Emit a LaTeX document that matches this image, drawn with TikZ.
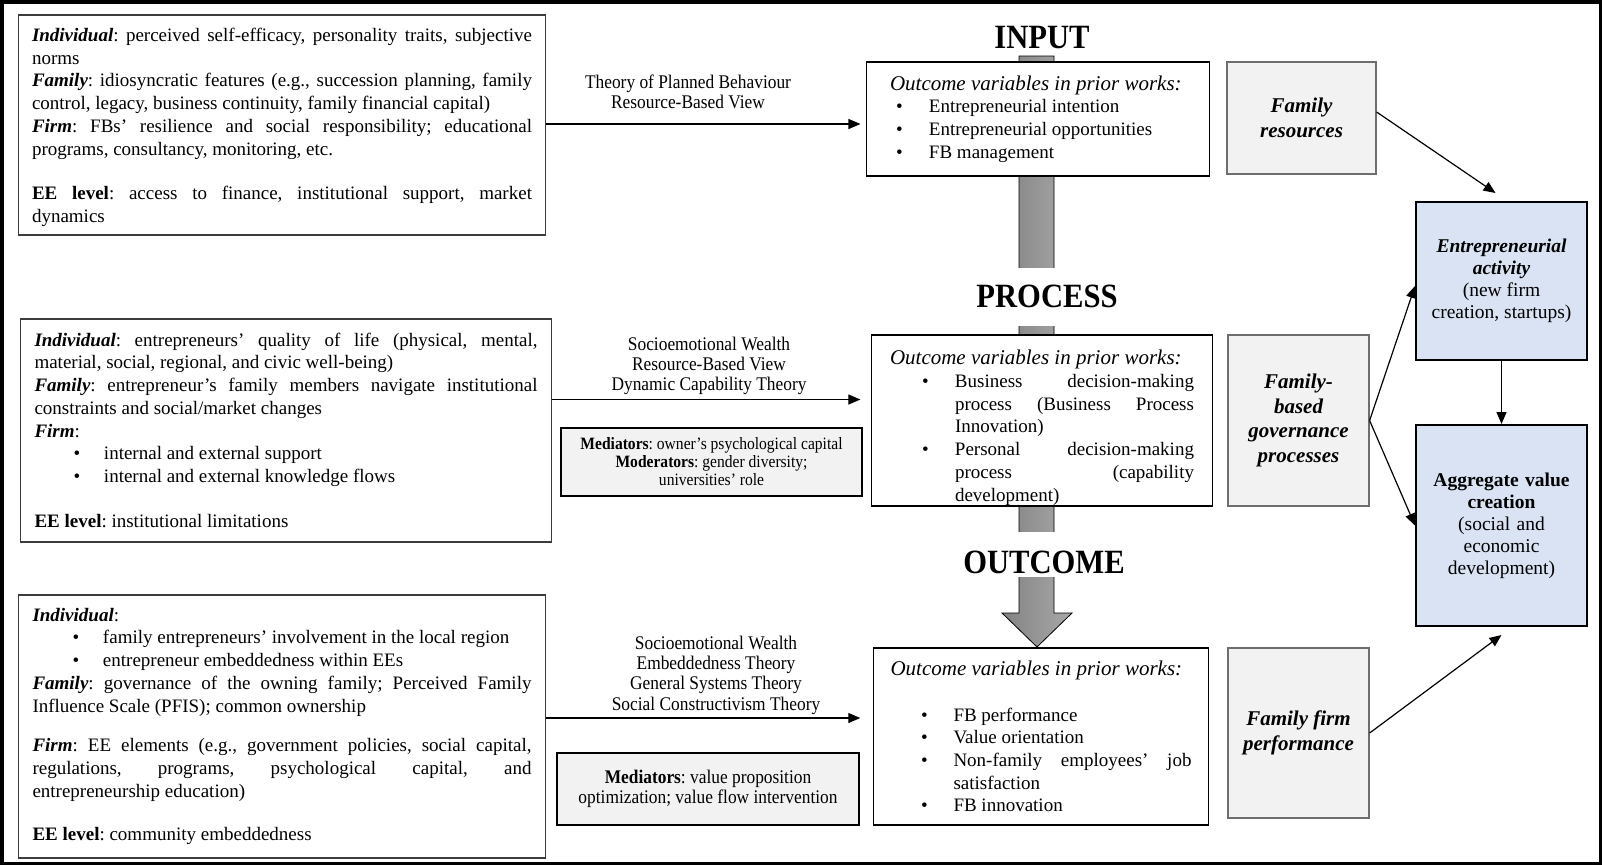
\documentclass[tikz,border=0pt]{standalone}
\usepackage{fontspec}
\setmainfont{Liberation Serif}
\newfontfamily\condfont[FakeStretch=0.9]{Liberation Serif}
\usetikzlibrary{arrows.meta,calc}
\setlength{\parindent}{0pt}
\frenchspacing
\definecolor{panelgray}{HTML}{F2F2F2}
\definecolor{bluefill}{HTML}{DAE3F3}
\definecolor{edgegray}{HTML}{3C3C3C}
\definecolor{graybox}{HTML}{6E6E6E}
\definecolor{shaftdark}{HTML}{838383}
\definecolor{shaftlight}{HTML}{A8A8A8}
\newcommand{\mainsz}{\fontsize{19}{22.7}\selectfont}
\newcommand{\titlesz}{\fontsize{21}{22.7}\selectfont\itshape}
\newcommand{\bisz}{\fontsize{21}{24.5}\selectfont\bfseries\itshape}
\newcommand{\bluesz}{\fontsize{19.5}{22}\selectfont}
\newcommand{\thsz}{\condfont\fontsize{19.3}{20.3}\selectfont}
\newcommand{\medAsz}{\condfont\fontsize{17.3}{18}\selectfont}
\newcommand{\medBsz}{\condfont\fontsize{19.3}{20}\selectfont}
\newcommand{\hdrsz}{\condfont\bfseries\fontsize{34}{34}\selectfont}
\newcommand{\bitem}[3]{\par\hangindent=#2\hangafter=1\noindent\hbox to #1{}\hbox to \dimexpr#2-#1\relax{\textbullet\hfil}#3\par}
\newcommand{\bib}[1]{\textbf{\textit{#1}}}
\tikzset{
 lbox/.style={draw=edgegray, line width=1.4pt, fill=white, align=justify, font=\mainsz, inner ysep=3pt},
 obox/.style={draw=black, line width=1.3pt, fill=white, align=justify, font=\mainsz, inner ysep=3pt},
 medbox/.style={draw=black, line width=2pt, fill=panelgray, align=center, inner sep=2pt},
 rgbox/.style={draw=graybox, line width=1.2pt, fill=panelgray, align=center, font=\bisz},
 bbox/.style={draw=black, line width=2pt, fill=bluefill, align=center, font=\bluesz},
 theory/.style={align=center, font=\thsz, inner sep=0pt},
 hdr/.style={font=\hdrsz, inner sep=0pt},
 arr/.style={-{Triangle[length=12pt,width=10pt]}, line width=1.2pt},
}
\begin{document}
\begin{tikzpicture}[x=1pt,y=-1pt]
\useasboundingbox (0,0) rectangle (1602,865);
\fill[white] (0,0) rectangle (1602,865);
\draw[line width=3.5pt] (1.75,1.75) rectangle (1600.25,863.25);

% big gray arrow behind the stages
\path[draw=black, line width=0.8pt, left color=shaftdark, right color=shaftlight]
  (1019,56) -- (1054,56) -- (1054,613) -- (1072,613) -- (1037,647) -- (1002,613) -- (1019,613) -- cycle;

% stage headers
\node[hdr, text height=24pt, text depth=0pt] (input) at (1042,36) {INPUT};
\node[hdr, fill=white, minimum width=150pt, text height=39pt, text depth=19pt] (process) at (1047,297) {PROCESS};
\node[hdr, fill=white, minimum width=170pt, text height=41pt, text depth=4pt] (outcome) at (1044,554.5) {OUTCOME};

% left boxes
\node[lbox, text width=500pt, inner xsep=13.5pt, minimum height=220pt] (l1) at (282,125) {%
\rule{0pt}{18pt}\bib{Individual}: perceived self-efficacy, personality traits, subjective\linebreak norms\par
\bib{Family}: idiosyncratic features (e.g., succession planning, family\linebreak control, legacy, business continuity, family financial capital)\par
\bib{Firm}: FBs’ resilience and social responsibility; educational\linebreak programs, consultancy, monitoring, etc.\par
\vspace{22pt}
\textbf{EE level}: access to finance, institutional support, market\linebreak dynamics\par};

\node[lbox, text width=503pt, inner xsep=14pt, minimum height=223pt] (l2) at (286,430.5) {%
\bib{Individual}: entrepreneurs’ quality of life (physical, mental,\linebreak material, social, regional, and civic well-being)\par
\bib{Family}: entrepreneur’s family members navigate institutional\linebreak constraints and social/market changes\par
\bib{Firm}:\par
\bitem{39pt}{69.5pt}{internal and external support}
\bitem{39pt}{69.5pt}{internal and external knowledge flows}
\vspace{22.7pt}
\textbf{EE level}: institutional limitations\par};

\node[lbox, text width=499pt, inner xsep=14pt, minimum height=263pt] (l3) at (282,726.5) {%
\bib{Individual}:\par
\bitem{40pt}{70.5pt}{family entrepreneurs’ involvement in the local region}
\bitem{40pt}{70.5pt}{entrepreneur embeddedness within EEs}
\bib{Family}: governance of the owning family; Perceived Family\linebreak Influence Scale (PFIS); common ownership\par
\vspace{17pt}
\bib{Firm}: EE elements (e.g., government policies, social capital,\linebreak regulations, programs, psychological capital, and\linebreak entrepreneurship education)\par
\vspace{21pt}
\textbf{EE level}: community embeddedness\par};

% outcome-variable boxes
\node[obox, text width=296pt, inner xsep=23.5pt, minimum height=114pt] (inbox) at (1038,119) {%
{\titlesz Outcome variables in prior works:}\par
\bitem{6pt}{39pt}{Entrepreneurial intention}
\bitem{6pt}{39pt}{Entrepreneurial opportunities}
\bitem{6pt}{39pt}{FB management}};

\node[obox, inner ysep=0pt, text width=304pt, inner xsep=18.5pt, minimum height=171pt] (pbox) at (1042,420.5) {%
{\titlesz\rule{0pt}{29pt}Outcome variables in prior works:}\par
\bitem{32pt}{65pt}{Business decision-making\linebreak process (Business Process\linebreak Innovation)}
\bitem{32pt}{65pt}{Personal decision-making\linebreak process (capability\linebreak development)}};

\node[obox, text width=301pt, inner xsep=17pt, minimum height=177pt] (obox) at (1041,736.5) {%
{\titlesz Outcome variables in prior works:}\par
\vspace{22.7pt}
\bitem{30.6pt}{63pt}{FB performance}
\bitem{30.6pt}{63pt}{Value orientation}
\bitem{30.6pt}{63pt}{Non-family employees’ job\linebreak satisfaction}
\bitem{30.6pt}{63pt}{FB innovation}};

% theory labels
\node[theory] (t1) at (688,92) {Theory of Planned Behaviour\\Resource-Based View};
\node[theory] (t2) at (709,366) {Socioemotional Wealth\\Resource-Based View\\Dynamic Capability Theory};
\node[theory] (t3) at (716,675) {Socioemotional Wealth\\Embeddedness Theory\\General Systems Theory\\Social Constructivism Theory};

% mediator boxes
\node[medbox, minimum width=301pt, minimum height=68pt, font=\medAsz] (med1) at (711.5,462) {\textbf{Mediators}: owner’s psychological capital\\\textbf{Moderators}: gender diversity;\\universities’ role};
\node[medbox, minimum width=302pt, minimum height=72pt, font=\medBsz] (med2) at (708,789) {\textbf{Mediators}: value proposition\\optimization; value flow intervention};

% right column
\node[rgbox, minimum width=149pt, minimum height=112pt] (fr) at (1301.5,118) {Family\\resources};
\node[rgbox, minimum width=141pt, minimum height=171pt] (fbg) at (1298.5,420.5) {Family-\\based\\governance\\processes};
\node[rgbox, minimum width=141pt, minimum height=170pt] (ffp) at (1298.5,733) {Family firm\\performance};
\node[bbox, minimum width=171pt, minimum height=158pt] (ea) at (1501.5,281) {\bib{Entrepreneurial}\\\bib{activity}\\(new firm\\creation, startups)};
\node[bbox, text width=163pt, inner xsep=4pt, minimum height=201pt] (av) at (1501.5,525.5) {\textbf{Aggregate value}\\\textbf{creation}\\(social and\\economic\\development)\par\vspace{24pt}};

% connectors
\draw[arr, shorten >=5.4pt] ([yshift=1pt]l1.east) -- ([yshift=1pt]l1.east -| inbox.west);
\draw[arr, shorten >=10.5pt] ([yshift=31pt]l2.east) -- ([yshift=31pt]l2.east -| pbox.west);
\draw[arr, shorten >=12.6pt] ([yshift=8.5pt]l3.east) -- ([yshift=8.5pt]l3.east -| obox.west);
\draw[arr] ([yshift=6pt]fr.east) -- ([shift={(-6pt,8pt)}]ea.north);
\draw[arr] (fbg.east) -- ([yshift=-5pt]ea.west);
\draw[arr] (fbg.east) -- (av.west);
\draw[arr] (ea.south) -- (av.north);
\draw[arr] (ffp.east) -- ([yshift=-8pt]av.south);
\end{tikzpicture}
\end{document}
